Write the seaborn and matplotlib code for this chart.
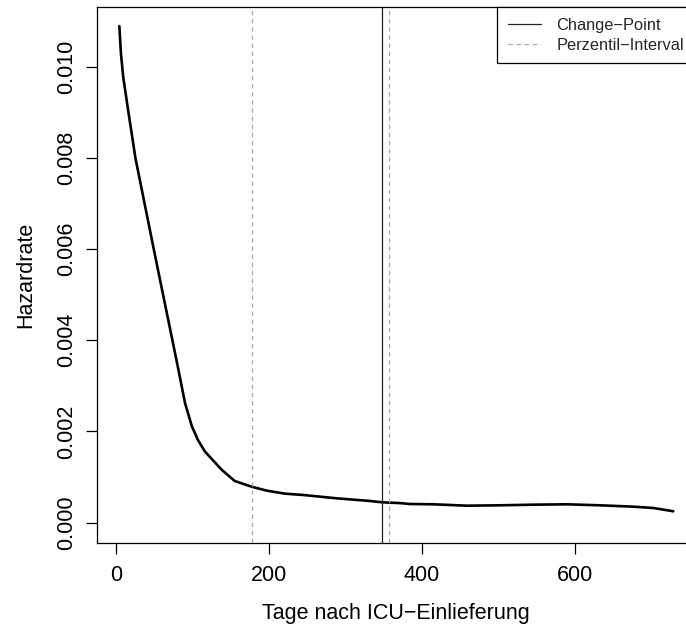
import matplotlib
matplotlib.use("Agg")
import matplotlib.pyplot as plt
import seaborn as sns
import pandas as pd

# Smoothed hazard estimate over days after ICU admission
days = [4, 6, 9, 15, 25, 37, 49, 60, 71, 81, 90, 99, 107, 116, 127, 138, 155,
        177, 197, 221, 245, 288, 332, 348, 371, 384, 415, 459, 502, 546, 590,
        633, 677, 703, 729]
hazard = [0.01089, 0.01030, 0.00978, 0.0091, 0.0080, 0.0070, 0.0060, 0.0051,
          0.0042, 0.00338, 0.00262, 0.00211, 0.00181, 0.00156, 0.00136,
          0.00116, 0.000914, 0.00079, 0.000702, 0.000636, 0.000607, 0.000535,
          0.000476, 0.000447, 0.00043, 0.00041, 0.000403, 0.000373, 0.000381,
          0.000395, 0.000403, 0.000381, 0.000351, 0.000322, 0.00025]

change_point = 348
percentile_interval = [177, 357]

x_ticks = [0, 200, 400, 600]
y_ticks = [0.000, 0.002, 0.004, 0.006, 0.008, 0.010]
y_tick_labels = ["0.000", "0.002", "0.004", "0.006", "0.008", "0.010"]

sns.set_theme(style="white")
plt.rcParams["font.family"] = ["Liberation Sans", "DejaVu Sans"]

df = pd.DataFrame({"Tage": days, "Hazard": hazard})

fig = plt.figure(figsize=(6.86, 6.27), dpi=100)
ax = fig.add_axes([0.1418, 0.1335, 0.8707, 0.8549])

sns.lineplot(data=df, x="Tage", y="Hazard", ax=ax, color="black",
             linewidth=1.9, estimator=None, sort=False, legend=False)
ax.lines[0].set_solid_joinstyle("round")

ax.axvline(change_point, color="#222222", linewidth=0.9, label="Change\u2212Point")
for i, v in enumerate(percentile_interval):
    ax.axvline(v, color="#aaaaaa", linewidth=0.9, dashes=(3.6, 2.9),
               label="Perzentil\u2212Interval" if i == 0 else "_nolegend_")

ax.set_xlim(-24.9, 756.9)
ax.set_ylim(-0.000452, 0.011303)

ax.set_xticks(x_ticks)
ax.set_xticklabels([str(t) for t in x_ticks])
ax.set_yticks(y_ticks)
ax.set_yticklabels(y_tick_labels, rotation=90, va="center")

ax.tick_params(axis="both", which="major", direction="out", length=7.6,
               width=0.9, color="black", labelsize=15.5, labelcolor="black",
               left=True, bottom=True)
ax.tick_params(axis="x", pad=8)
ax.tick_params(axis="y", pad=6.8)

for s in ax.spines.values():
    s.set_visible(True)
    s.set_color("black")
    s.set_linewidth(0.9)

ax.set_xlabel("Tage nach ICU\u2212Einlieferung", fontsize=15.5, color="black")
ax.set_ylabel("Hazardrate", fontsize=15.5, color="black")
ax.xaxis.set_label_coords(0.5, -0.1108)
ax.yaxis.set_label_coords(-0.1023, 0.5)

leg = ax.legend(loc="upper right", bbox_to_anchor=(1.0, 1.0),
                borderaxespad=0, fontsize=11.8, frameon=True, fancybox=False,
                shadow=False, handlelength=2.0, handletextpad=0.95,
                borderpad=0.66, labelspacing=0.28)
leg.get_frame().set_edgecolor("black")
leg.get_frame().set_linewidth(0.9)
leg.get_frame().set_alpha(1)

fig.savefig("out.png", dpi=100)
